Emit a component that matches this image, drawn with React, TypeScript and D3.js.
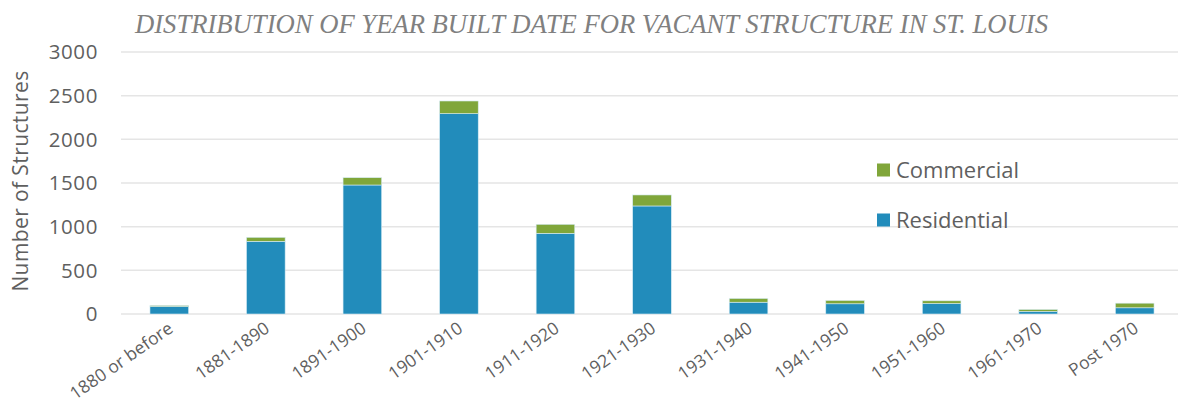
import React, { useEffect, useRef } from 'react';
import * as d3 from 'd3';

const categories = [
  '1880 or before', '1881-1890', '1891-1900', '1901-1910', '1911-1920', '1921-1930',
  '1931-1940', '1941-1950', '1951-1960', '1961-1970', 'Post 1970',
];
const residential = [86, 832, 1477, 2294, 924, 1237, 135, 117, 120, 29, 71];
const commercial = [11, 46, 84, 145, 103, 126, 43, 38, 31, 23, 53];
const yTicks = [0, 500, 1000, 1500, 2000, 2500, 3000];
const seriesNames = ['Residential', 'Commercial'];

const WIDTH = 1178;
const HEIGHT = 406;
const BLUE = '#228cbb';
const GREEN = '#80a63a';
const TEXT = '#5f5f5f';
const FONT = '"Open Sans", Lato, sans-serif';

const App: React.FC = () => {
  const svgRef = useRef<SVGSVGElement | null>(null);

  useEffect(() => {
    if (!svgRef.current) return;
    const svg = d3.select(svgRef.current);
    svg.selectAll('*').remove();

    // plot area runs a little past the right edge, like the original
    const x = d3.scaleBand<string>().domain(categories).range([121, 1183]).paddingInner(0.6).paddingOuter(0.3);
    const y = d3.scaleLinear().domain([0, 3000]).range([314, 52]);

    const rows = categories.map((c, i) => ({ cat: c, Residential: residential[i], Commercial: commercial[i] }));
    const stacked = d3.stack<any>().keys(seriesNames)(rows);
    const colors: Record<string, string> = { Residential: BLUE, Commercial: GREEN };

    // title
    svg.append('text')
      .attr('x', 135).attr('y', 33)
      .attr('font-family', '"Liberation Serif", "DejaVu Serif", serif')
      .attr('font-style', 'italic')
      .attr('font-size', 27)
      .attr('fill', '#808080')
      .attr('textLength', 913)
      .attr('lengthAdjust', 'spacingAndGlyphs')
      .text('DISTRIBUTION OF YEAR BUILT DATE FOR VACANT STRUCTURE IN ST. LOUIS');

    // gridlines
    svg.append('g').selectAll('line').data(yTicks).join('line')
      .attr('x1', 121).attr('x2', WIDTH)
      .attr('y1', d => y(d)).attr('y2', d => y(d))
      .attr('stroke', '#e5e5e5').attr('stroke-width', 1.5);

    // y tick labels
    svg.append('g').selectAll('text').data(yTicks).join('text')
      .attr('x', 98).attr('y', d => y(d))
      .attr('dy', '0.36em')
      .attr('text-anchor', 'end')
      .attr('font-family', FONT).attr('font-size', 20.5)
      .attr('letter-spacing', 0.6)
      .attr('fill', TEXT)
      .text(d => String(d));

    // y axis title
    svg.append('text')
      .attr('transform', `translate(20,${y(1500) - 2}) rotate(-90)`)
      .attr('text-anchor', 'middle')
      .attr('dy', '0.36em')
      .attr('font-family', FONT).attr('font-size', 21)
      .attr('letter-spacing', 0.4)
      .attr('fill', TEXT)
      .text('Number of Structures');

    // bars
    svg.append('g').selectAll('g').data(stacked).join('g')
      .attr('fill', d => colors[d.key])
      .selectAll('rect').data(d => d).join('rect')
      .attr('x', (d: any) => x(d.data.cat)!)
      .attr('width', x.bandwidth())
      .attr('y', d => y(d[1]))
      .attr('height', d => y(d[0]) - y(d[1]))
      .attr('stroke', '#d6ecf4').attr('stroke-width', 0.6);

    // x labels, rotated
    svg.append('g').selectAll('text').data(categories).join('text')
      .attr('transform', d => `translate(${x(d)! + x.bandwidth() / 2 + 5},${331}) rotate(-35)`)
      .attr('text-anchor', 'end')
      .attr('font-family', FONT).attr('font-size', 17.5)
      .attr('fill', TEXT)
      .text(d => d);

    // legend
    const legend = [
      { name: 'Commercial', color: GREEN, y: 170 },
      { name: 'Residential', color: BLUE, y: 220 },
    ];
    const lg = svg.append('g').selectAll('g').data(legend).join('g')
      .attr('transform', d => `translate(877,${d.y})`);
    lg.append('rect').attr('x', 0).attr('y', -6.5).attr('width', 13).attr('height', 13).attr('fill', d => d.color);
    lg.append('text')
      .attr('x', 19).attr('y', 0).attr('dy', '0.36em')
      .attr('font-family', FONT).attr('font-size', 22)
      .attr('fill', TEXT)
      .text(d => d.name);
  }, []);

  return <svg ref={svgRef} width={WIDTH} height={HEIGHT} style={{ display: 'block', position: 'absolute', left: 0, top: 0 }} />;
};

export default App;
